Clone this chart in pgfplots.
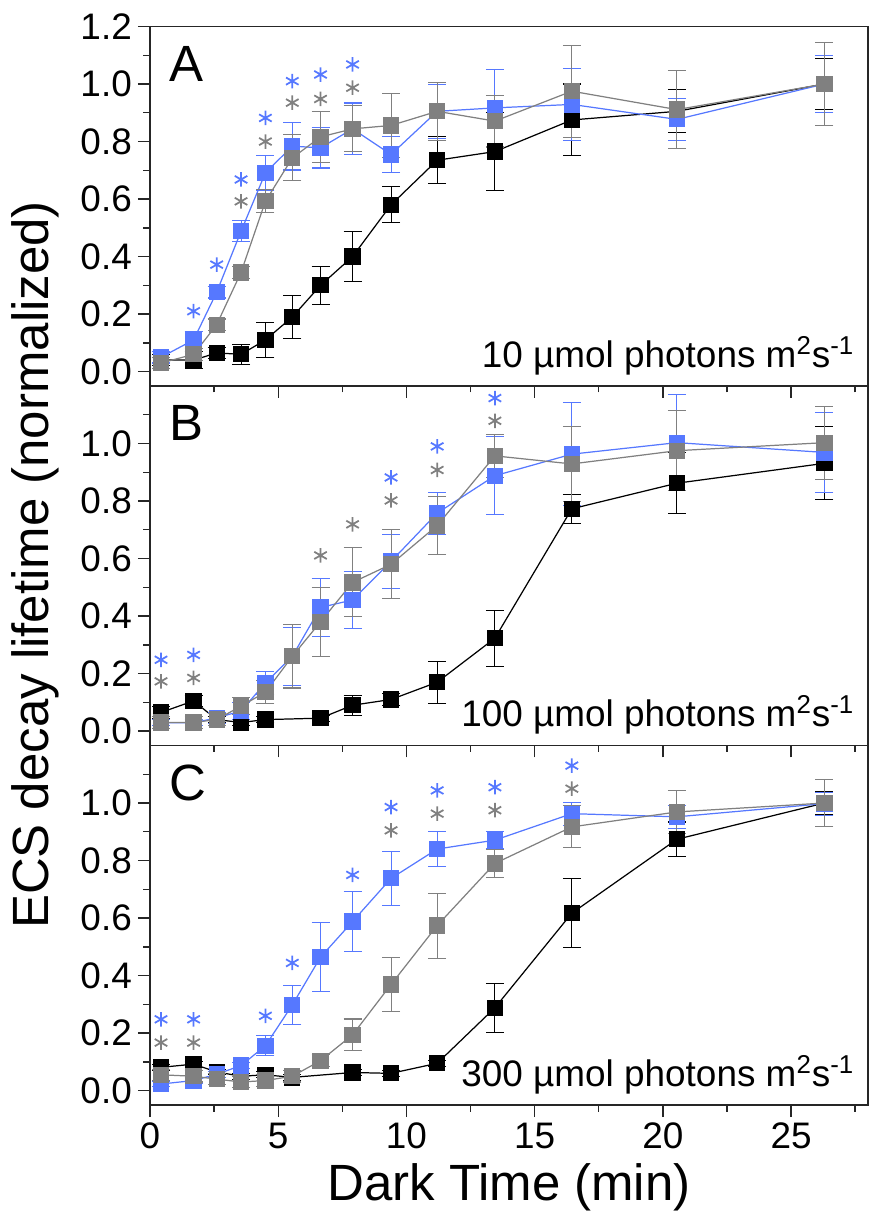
\documentclass[border=0pt]{standalone}
\usepackage{fontspec}
\setmainfont{Liberation Sans}
\usepackage{pgfplots}
\pgfplotsset{compat=1.18}
\definecolor{ecsblue}{RGB}{86,120,255}
\definecolor{ecsgray}{RGB}{128,128,128}

\pgfplotsset{
  panel/.style={width=143.6mm,height=71.9mm,scale only axis,
    xmin=0,xmax=28,ymin=-0.05,ymax=1.2,
    xtick={0,5,...,25},minor xtick={2.5,7.5,...,27.5},
    minor ytick={0.1,0.3,0.5,0.7,0.9,1.1},
    tick align=outside,xtick pos=bottom,ytick pos=left,
    major tick length=2.4mm,minor tick length=1.3mm,
    axis line style={line width=0.8pt,black!85},
    every tick/.append style={line width=0.8pt,black!85},
    tick label style={font=\fontsize{21}{21}\selectfont},
    /pgf/number format/assume math mode=true,
    yticklabel style={/pgf/number format/.cd,fixed,fixed zerofill,precision=1},
    clip=false},
  ser/.style={color=#1,mark=square*,mark size=1.5mm,line width=0.7pt,
    mark options={fill=#1,draw=#1},
    error bars/.cd,y dir=both,y explicit,
    error bar style={line width=0.6pt,#1},
    error mark options={rotate=90,mark size=1.8mm,line width=0.6pt,#1}},
  star/.style={color=#1,only marks,mark=asterisk,mark size=1.45mm,line width=1pt},
}
\newcommand\bigfont{\fontsize{29}{29}\selectfont}
\newcommand\midfont{\fontsize{21}{21}\selectfont}

\begin{document}
\begin{tikzpicture}
\path[use as bounding box] (-30mm,-23.2mm) rectangle (144mm,221mm);

% A: 10 umol
\begin{axis}[panel,at={(0,143.8mm)},anchor=south west,
  ytick={0,0.2,0.4,0.6,0.8,1.0,1.2},xticklabels={}]
\addplot+[ser=black] coordinates {
(0.43,0.04)+-(0,0.02) (1.70,0.04)+-(0,0.03) (2.60,0.065)+-(0,0.02) (3.55,0.06)+-(0,0.035)
(4.50,0.11)+-(0,0.06) (5.55,0.19)+-(0,0.075) (6.65,0.30)+-(0,0.066) (7.90,0.40)+-(0,0.087)
(9.40,0.58)+-(0,0.062) (11.20,0.735)+-(0,0.082) (13.45,0.765)+-(0,0.135) (16.45,0.875)+-(0,0.125)
(20.55,0.905)+-(0,0.075) (26.30,1.0)+-(0,0.09)};
\addplot+[ser=ecsblue] coordinates {
(0.43,0.05)+-(0,0.02) (1.70,0.11)+-(0,0.03) (2.60,0.276)+-(0,0.02) (3.55,0.488)+-(0,0.037)
(4.50,0.691)+-(0,0.06) (5.55,0.784)+-(0,0.083) (6.65,0.778)+-(0,0.07) (7.90,0.844)+-(0,0.09)
(9.40,0.755)+-(0,0.063) (11.20,0.905)+-(0,0.094) (13.45,0.917)+-(0,0.133) (16.45,0.929)+-(0,0.125)
(20.55,0.877)+-(0,0.072) (26.30,1.0)+-(0,0.1)};
\addplot+[ser=ecsgray] coordinates {
(0.43,0.03)+-(0,0.02) (1.70,0.06)+-(0,0.02) (2.60,0.163)+-(0,0.02) (3.55,0.345)+-(0,0.02)
(4.50,0.592)+-(0,0.04) (5.55,0.743)+-(0,0.08) (6.65,0.816)+-(0,0.09) (7.90,0.844)+-(0,0.08)
(9.40,0.856)+-(0,0.11) (11.20,0.905)+-(0,0.1) (13.45,0.871)+-(0,0.09) (16.45,0.975)+-(0,0.16)
(20.55,0.911)+-(0,0.135) (26.30,1.0)+-(0,0.143)};
\addplot[star=ecsblue] coordinates {(1.70,0.21) (2.60,0.372) (3.55,0.668) (4.50,0.882) (5.55,1.01) (6.65,1.033) (7.90,1.068)};
\addplot[star=ecsgray] coordinates {(3.55,0.592) (4.50,0.80) (5.55,0.935) (6.65,0.948) (7.90,0.987)};
\node[anchor=base west,font=\bigfont] at (axis cs:0.5,1.01) {A};
\node[anchor=base east,font=\midfont] at (axis cs:27.7,0.015) {10 µmol photons m\textsuperscript{2}s\textsuperscript{-1}};
\end{axis}

% B: 100 umol
\begin{axis}[panel,at={(0,71.9mm)},anchor=south west,
  ytick={0,0.2,0.4,0.6,0.8,1.0},xticklabels={}]
\addplot+[ser=black] coordinates {
(0.43,0.065)+-(0,0.02) (1.70,0.105)+-(0,0.02) (2.60,0.04)+-(0,0.01) (3.55,0.03)+-(0,0.01)
(4.50,0.04)+-(0,0.01) (6.65,0.045)+-(0,0.01) (7.90,0.09)+-(0,0.035) (9.40,0.11)+-(0,0.02)
(11.20,0.17)+-(0,0.073) (13.45,0.323)+-(0,0.098) (16.45,0.773)+-(0,0.05) (20.55,0.862)+-(0,0.106)
(26.30,0.931)+-(0,0.127)};
\addplot+[ser=ecsblue] coordinates {
(0.43,0.029)+-(0,0.01) (1.70,0.029)+-(0,0.01) (2.60,0.046)+-(0,0.02) (3.55,0.07)+-(0,0.03)
(4.50,0.167)+-(0,0.04) (5.55,0.26)+-(0,0.1) (6.65,0.43)+-(0,0.1) (7.90,0.456)+-(0,0.1)
(9.40,0.59)+-(0,0.095) (11.20,0.758)+-(0,0.073) (13.45,0.888)+-(0,0.135) (16.45,0.963)+-(0,0.18)
(20.55,1.003)+-(0,0.167) (26.30,0.969)+-(0,0.14)};
\addplot+[ser=ecsgray] coordinates {
(0.43,0.03)+-(0,0.02) (1.70,0.03)+-(0,0.02) (2.60,0.04)+-(0,0.02) (3.55,0.087)+-(0,0.03)
(4.50,0.135)+-(0,0.04) (5.55,0.26)+-(0,0.11) (6.65,0.38)+-(0,0.12) (7.90,0.517)+-(0,0.12)
(9.40,0.58)+-(0,0.12) (11.20,0.715)+-(0,0.1) (13.45,0.957)+-(0,0.075) (16.45,0.929)+-(0,0.13)
(20.55,0.975)+-(0,0.14) (26.30,1.003)+-(0,0.127)};
\addplot[star=ecsblue] coordinates {(0.43,0.248) (1.70,0.265) (9.40,0.882) (11.20,0.99) (13.45,1.158)};
\addplot[star=ecsgray] coordinates {(0.43,0.173) (1.70,0.185) (6.65,0.611) (7.90,0.719) (9.40,0.802) (11.20,0.908) (13.45,1.079)};
\node[anchor=base west,font=\bigfont] at (axis cs:0.5,1.01) {B};
\node[anchor=base east,font=\midfont] at (axis cs:27.7,0.015) {100 µmol photons m\textsuperscript{2}s\textsuperscript{-1}};
\end{axis}

% C: 300 umol
\begin{axis}[panel,at={(0,0)},anchor=south west,
  ytick={0,0.2,0.4,0.6,0.8,1.0}]
\addplot+[ser=black] coordinates {
(0.43,0.081)+-(0,0.01) (1.70,0.092)+-(0,0.01) (2.60,0.065)+-(0,0.01) (3.55,0.05)+-(0,0.01)
(4.50,0.055)+-(0,0.01) (5.55,0.046)+-(0,0.01) (7.90,0.063)+-(0,0.01) (9.40,0.06)+-(0,0.01)
(11.20,0.095)+-(0,0.01) (13.45,0.288)+-(0,0.085) (16.45,0.617)+-(0,0.12) (20.55,0.874)+-(0,0.06)
(26.30,1.0)+-(0,0.04)};
\addplot+[ser=ecsblue] coordinates {
(0.43,0.023)+-(0,0.01) (1.70,0.035)+-(0,0.01) (2.60,0.057)+-(0,0.01) (3.55,0.087)+-(0,0.01)
(4.50,0.156)+-(0,0.035) (5.55,0.298)+-(0,0.067) (6.65,0.464)+-(0,0.12) (7.90,0.588)+-(0,0.105)
(9.40,0.738)+-(0,0.095) (11.20,0.84)+-(0,0.06) (13.45,0.871)+-(0,0.03) (16.45,0.963)+-(0,0.04)
(20.55,0.952)+-(0,0.04) (26.30,0.998)+-(0,0.04)};
\addplot+[ser=ecsgray] coordinates {
(0.43,0.055)+-(0,0.02) (1.70,0.05)+-(0,0.02) (2.60,0.04)+-(0,0.02) (3.55,0.03)+-(0,0.02)
(4.50,0.035)+-(0,0.02) (5.55,0.05)+-(0,0.02) (6.65,0.104)+-(0,0.02) (7.90,0.194)+-(0,0.055)
(9.40,0.369)+-(0,0.093) (11.20,0.574)+-(0,0.113) (13.45,0.79)+-(0,0.05) (16.45,0.917)+-(0,0.073)
(20.55,0.969)+-(0,0.075) (26.30,1.0)+-(0,0.083)};
\addplot[star=ecsblue] coordinates {(0.43,0.248) (1.70,0.248) (4.50,0.26) (5.55,0.444) (7.90,0.75) (9.40,0.986) (11.20,1.044) (13.45,1.055) (16.45,1.13)};
\addplot[star=ecsgray] coordinates {(0.43,0.167) (1.70,0.167) (9.40,0.905) (11.20,0.963) (13.45,0.975) (16.45,1.05)};
\node[anchor=base west,font=\bigfont] at (axis cs:0.5,1.01) {C};
\node[anchor=base east,font=\midfont] at (axis cs:27.7,0.015) {300 µmol photons m\textsuperscript{2}s\textsuperscript{-1}};
\end{axis}

\node[rotate=90,font=\bigfont] at (-23mm,108mm) {ECS decay lifetime (normalized)};
\node[anchor=base,font=\bigfont] at (71.8mm,-19mm) {Dark Time (min)};
\end{tikzpicture}
\end{document}
